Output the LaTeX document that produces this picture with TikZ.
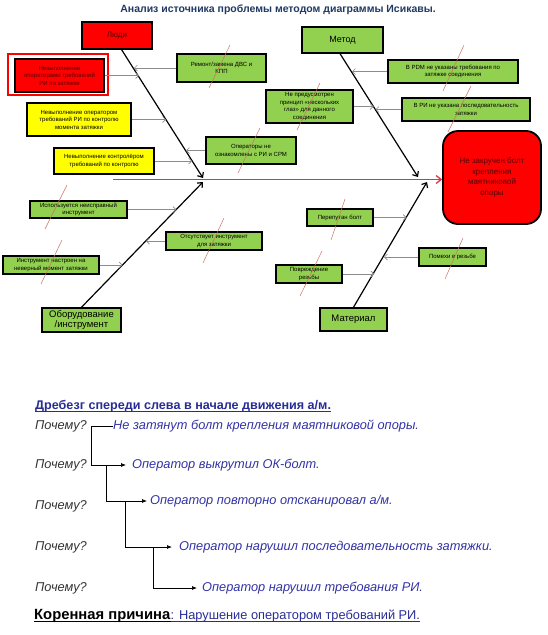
\documentclass[tikz,border=0pt]{standalone}
\usepackage{fontspec}
\setmainfont{Liberation Sans}
\usetikzlibrary{arrows.meta}

\definecolor{boxgreen}{RGB}{146,208,80}
\definecolor{boxred}{RGB}{255,0,0}
\definecolor{boxyellow}{RGB}{255,255,0}
\definecolor{darkred}{RGB}{85,0,0}
\definecolor{spinered}{RGB}{228,50,60}
\definecolor{slashred}{RGB}{200,115,100}
\definecolor{whyblue}{RGB}{50,50,165}
\definecolor{titleblue}{RGB}{31,56,100}
\definecolor{headblue}{RGB}{40,45,150}

\tikzset{
  causebox/.style={draw=black,line width=1.3pt,align=center,inner sep=1pt,
    font=\fontsize{6}{7.5}\selectfont},
  greenbox/.style={causebox,fill=boxgreen},
  yellowbox/.style={causebox,fill=boxyellow},
  redbox/.style={causebox,fill=boxred,text=darkred},
  catbox/.style={draw=black,line width=1.5pt,fill=boxgreen,align=center,inner sep=1pt},
  feed/.style={draw=black!45,line width=0.7pt,-{Straight Barb[length=3pt,width=6pt]}},
  bone/.style={line width=1.2pt,-{Straight Barb[length=4pt,width=7pt]}},
  slash/.style={draw=slashred,line width=0.5pt},
  why/.style={anchor=west,inner sep=0pt,font=\fontsize{12.8}{15}\selectfont\itshape,text=black!80},
  reason/.style={anchor=west,inner sep=0pt,font=\fontsize{12.8}{15}\selectfont\itshape,text=whyblue},
  whyarrow/.style={line width=0.7pt,-{Latex[length=5pt,width=4pt]}}
}

\begin{document}
\begin{tikzpicture}[x=1pt,y=-1pt]
  \useasboundingbox (0,0) rectangle (547,635);

  \node[font=\fontsize{10.5}{12}\selectfont\bfseries,text=titleblue] (title) at (278,10)
    {Анализ источника проблемы методом диаграммы Исикавы.};

  % heads
  \node[catbox,fill=boxred,text=darkred,minimum width=70pt,minimum height=27pt,
    font=\fontsize{8}{9}\selectfont] (ludi) at (117,35.5) {Люди};
  \node[catbox,minimum width=81pt,minimum height=26pt,
    font=\fontsize{9}{10}\selectfont] (metod) at (342.5,40) {Метод};
  \node[catbox,minimum width=79pt,minimum height=24pt,
    font=\fontsize{9.5}{10.5}\selectfont] (oborud) at (81.5,320) {Оборудование\\/инструмент};
  \node[catbox,minimum width=67pt,minimum height=23pt,
    font=\fontsize{9.5}{10.5}\selectfont] (material) at (353.5,319.5) {Материал};
  \node[draw=black,line width=1.8pt,fill=boxred,text=darkred,rounded corners=15pt,
    minimum width=98pt,minimum height=93pt,align=center,
    font=\fontsize{8}{10.5}\selectfont] (effect) at (492,177.5)
    {Не закручен болт\\крепления\\маятниковой\\опоры};

  % spine
  \coordinate (tail) at (113,179.5);
  \draw[spinered,line width=1.3pt,-{Straight Barb[length=5pt,width=8pt]}] (tail) -- (tail -| effect.west);

  % bones
  \coordinate (hL) at (203,178);
  \coordinate (hO) at (203,182);
  \coordinate (hM) at (418,177);
  \coordinate (hT) at (427,182);
  \draw[bone] (ludi.-72) -- (hL);
  \draw[bone] (metod.-100) -- (hM);
  \draw[bone] (oborud.north) -- (hO);
  \draw[bone] (material.north) -- (hT);

  % causes
  \node[draw=boxred,line width=2pt,minimum width=100pt,minimum height=41pt] (c1frame) at (58,74.5) {};
  \node[redbox,minimum width=89pt,minimum height=33pt] (c1) at (59.5,75.5)
    {Невыполнение\\операторами требований\\РИ по затяжке};
  \node[greenbox,minimum width=89pt,minimum height=28pt] (c2) at (221.5,68)
    {Ремонт/замена ДВС и\\КПП};
  \node[yellowbox,minimum width=104pt,minimum height=33pt] (c3) at (79,119.5)
    {Невыполнение оператором\\требований РИ по контролю\\момента затяжки};
  \node[greenbox,minimum width=90pt,minimum height=27pt] (c4) at (251,150.5)
    {Операторы не\\ознакомлены с РИ и СРМ};
  \node[yellowbox,minimum width=100pt,minimum height=26pt] (c5) at (104,161)
    {Невыполнение контролёром\\требований по контролю};
  \node[greenbox,minimum width=130pt,minimum height=23pt] (c6) at (453,71.5)
    {В PDM не указаны требования по\\затяжке соединения};
  \node[greenbox,minimum width=128pt,minimum height=23pt] (c7) at (466,109.5)
    {В РИ не указана последовательность\\затяжки};
  \node[greenbox,minimum width=87pt,minimum height=33pt] (c8) at (309.5,106.5)
    {Не предусмотрен\\принцип «нескольких\\глаз» для данного\\соединения};
  \node[greenbox,minimum width=97pt,minimum height=17pt] (c9) at (78.5,209.5)
    {Используется неисправный\\инструмент};
  \node[greenbox,minimum width=96pt,minimum height=18pt] (c10) at (214,241)
    {Отсутствует инструмент\\для затяжки};
  \node[greenbox,minimum width=96pt,minimum height=18pt] (c11) at (51,265)
    {Инструмент настроен на\\неверный момент затяжки};
  \node[greenbox,minimum width=66pt,minimum height=17pt] (c12) at (340,217.5)
    {Перепутан болт};
  \node[greenbox,minimum width=67pt,minimum height=18pt] (c13) at (452.5,257)
    {Помехи в резьбе};
  \node[greenbox,minimum width=66pt,minimum height=18pt] (c14) at (309,274)
    {Повреждение\\резьбы};

  % feeds
  \coordinate (f1) at (139,75.5);
  \coordinate (f2) at (134,68);
  \coordinate (f3) at (166,119.5);
  \coordinate (f4) at (186,150.5);
  \coordinate (f5) at (192,161);
  \coordinate (f6) at (352,71.5);
  \coordinate (f7) at (375.5,109.5);
  \coordinate (f8) at (373.5,106.5);
  \coordinate (f9) at (176.4,209.5);
  \coordinate (f10) at (146,241);
  \coordinate (f11) at (122.7,265);
  \coordinate (f12) at (406.7,217.5);
  \coordinate (f13) at (384,257);
  \coordinate (f14) at (374.4,274);
  \draw[feed] (c1.east) -- (f1);
  \draw[feed] (c2.west) -- (f2);
  \draw[feed] (c3.east) -- (f3);
  \draw[feed] (c4.west) -- (f4);
  \draw[feed] (c5.east) -- (f5);
  \draw[feed] (c6.west) -- (f6);
  \draw[feed] (c7.west) -- (f7);
  \draw[feed] (c8.east) -- (f8);
  \draw[feed] (c9.east) -- (f9);
  \draw[feed] (c10.west) -- (f10);
  \draw[feed] (c11.east) -- (f11);
  \draw[feed] (c12.east) -- (f12);
  \draw[feed] (c13.west) -- (f13);
  \draw[feed] (c14.east) -- (f14);

  % slashes
  \draw[slash] (230,45) -- (209,88);
  \draw[slash] (260,128) -- (238,173);
  \draw[slash] (464,45) -- (443,91);
  \draw[slash] (471,86) -- (448,132);
  \draw[slash] (320,83) -- (297,130);
  \draw[slash] (67,185) -- (45,229);
  \draw[slash] (224,218) -- (203,263);
  \draw[slash] (62,240) -- (41,284);
  \draw[slash] (345,199) -- (331,240);
  \draw[slash] (463,238) -- (445,279);
  \draw[slash] (322,251) -- (300,296);

  % five whys
  \node[anchor=west,inner sep=0pt,text=headblue,font=\fontsize{12.6}{14}\selectfont\bfseries] (head) at (35,406)
    {Дребезг спереди слева в начале движения а/м.};
  \draw[headblue,line width=0.8pt] ([yshift=-1.8pt]head.base west) -- ([yshift=-1.8pt]head.base east);
  \node[why] (why1) at (35,426) {Почему?};
  \node[why] (why2) at (35,465) {Почему?};
  \node[why] (why3) at (35,506) {Почему?};
  \node[why] (why4) at (35,547) {Почему?};
  \node[why] (why5) at (35,588) {Почему?};
  \node[reason] (ans1) at (113,426) {Не затянут болт крепления маятниковой опоры.};
  \node[reason] (ans2) at (132,465) {Оператор выкрутил ОК-болт.};
  \node[reason] (ans3) at (150,501) {Оператор повторно отсканировал а/м.};
  \node[reason] (ans4) at (179,547) {Оператор нарушил последовательность затяжки.};
  \node[reason] (ans5) at (202,588) {Оператор нарушил требования РИ.};

  \coordinate (k1) at ([xshift=-22pt]ans1.west);
  \coordinate (k2) at ([xshift=-26pt]ans2.west);
  \coordinate (k3) at ([xshift=-25pt]ans3.west);
  \coordinate (k4) at ([xshift=-26pt]ans4.west);
  \draw[line width=0.7pt] (ans1.west) -- (k1);
  \draw[whyarrow] (k1) |- ([xshift=-6pt]ans2.west);
  \draw[whyarrow] (k2) |- ([xshift=-3pt]ans3.west);
  \draw[whyarrow] (k3) |- ([xshift=-7pt]ans4.west);
  \draw[whyarrow] (k4) |- ([xshift=-5pt]ans5.west);

  \node[anchor=west,inner sep=0pt,font=\fontsize{14.8}{17}\selectfont\bfseries] (root) at (34,616)
    {Коренная причина};
  \node[anchor=base west,inner sep=0pt,text=headblue,font=\fontsize{12.8}{15}\selectfont] (rootnote) at (root.base east)
    {: Нарушение оператором требований РИ.};
  \draw[line width=1pt] ([yshift=-2pt]root.base west) -- ([yshift=-2pt]root.base east);
  \draw[headblue,line width=0.7pt] ([yshift=-2pt]rootnote.base west) -- ([yshift=-2pt]rootnote.base east);
\end{tikzpicture}
\end{document}
